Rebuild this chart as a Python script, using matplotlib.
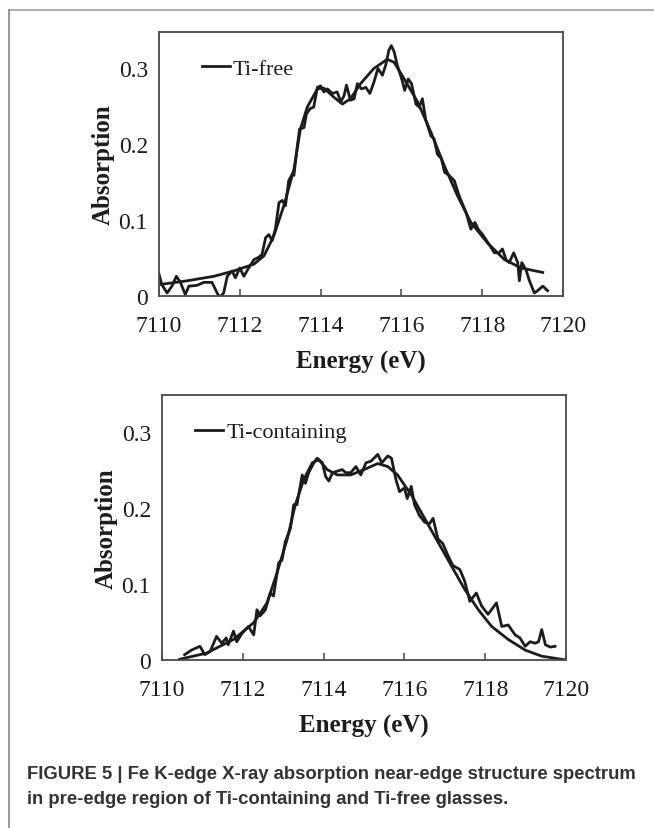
import numpy as np
import matplotlib
matplotlib.use("Agg")
import matplotlib.pyplot as plt
from matplotlib.lines import Line2D

# Ti-free glass: measured spectrum and fit
free_e = [7110.00, 7110.07, 7110.20, 7110.32, 7110.43, 7110.53, 7110.65, 7110.74, 7110.94, 7111.11,
          7111.31, 7111.44, 7111.50, 7111.60, 7111.69, 7111.81, 7111.89, 7112.00, 7112.10, 7112.22,
          7112.35, 7112.47, 7112.55, 7112.64, 7112.72, 7112.80, 7112.88, 7112.97, 7113.05, 7113.13,
          7113.21, 7113.30, 7113.34, 7113.42, 7113.48, 7113.59, 7113.65, 7113.74, 7113.83, 7113.92,
          7114.00, 7114.08, 7114.17, 7114.29, 7114.41, 7114.50, 7114.58, 7114.64, 7114.74, 7114.83,
          7114.91, 7115.01, 7115.12, 7115.22, 7115.32, 7115.42, 7115.53, 7115.61, 7115.69, 7115.75,
          7115.82, 7115.90, 7116.02, 7116.08, 7116.17, 7116.25, 7116.36, 7116.44, 7116.52, 7116.60,
          7116.73, 7116.81, 7116.89, 7116.99, 7117.07, 7117.18, 7117.31, 7117.43, 7117.60, 7117.72,
          7117.82, 7117.90, 7118.01, 7118.17, 7118.30, 7118.42, 7118.50, 7118.59, 7118.67, 7118.78,
          7118.88, 7118.92, 7118.98, 7119.08, 7119.17, 7119.29, 7119.37, 7119.50, 7119.62]
free_abs = [0.029, 0.015, 0.004, 0.013, 0.026, 0.018, 0.002, 0.013, 0.014, 0.018,
            0.018, 0.004, -0.002, 0.004, 0.026, 0.033, 0.024, 0.037, 0.026, 0.037,
            0.048, 0.051, 0.055, 0.077, 0.081, 0.073, 0.088, 0.123, 0.126, 0.119,
            0.152, 0.161, 0.159, 0.196, 0.220, 0.222, 0.240, 0.247, 0.249, 0.275,
            0.277, 0.269, 0.273, 0.267, 0.269, 0.256, 0.264, 0.278, 0.258, 0.260,
            0.280, 0.273, 0.275, 0.267, 0.282, 0.300, 0.291, 0.304, 0.324, 0.330,
            0.322, 0.304, 0.284, 0.271, 0.286, 0.280, 0.253, 0.249, 0.260, 0.233,
            0.211, 0.207, 0.187, 0.181, 0.163, 0.159, 0.152, 0.132, 0.110, 0.088,
            0.097, 0.088, 0.081, 0.068, 0.057, 0.057, 0.062, 0.048, 0.044, 0.057,
            0.044, 0.020, 0.044, 0.035, 0.020, 0.004, 0.007, 0.013, 0.007]
free_fit_e = [7110.00, 7110.69, 7111.36, 7111.85, 7112.35, 7112.60, 7112.84, 7113.09, 7113.34, 7113.50,
              7113.67, 7113.92, 7114.08, 7114.33, 7114.54, 7114.74, 7114.99, 7115.32, 7115.65, 7115.82,
              7116.07, 7116.40, 7116.73, 7117.06, 7117.39, 7117.72, 7118.13, 7118.55, 7118.96, 7119.50]
free_fit = [0.015, 0.020, 0.026, 0.033, 0.042, 0.053, 0.079, 0.119, 0.167, 0.220,
            0.249, 0.273, 0.274, 0.262, 0.253, 0.260, 0.280, 0.300, 0.312, 0.308,
            0.286, 0.256, 0.216, 0.172, 0.132, 0.097, 0.070, 0.048, 0.037, 0.031]

# Ti-containing glass: measured spectrum and fit
ti_e = [7110.56, 7110.73, 7110.94, 7111.06, 7111.19, 7111.35, 7111.48, 7111.59, 7111.64, 7111.77,
        7111.85, 7111.98, 7112.14, 7112.27, 7112.35, 7112.43, 7112.56, 7112.68, 7112.76, 7112.89,
        7112.97, 7113.05, 7113.18, 7113.26, 7113.34, 7113.47, 7113.55, 7113.63, 7113.76, 7113.84,
        7113.97, 7114.05, 7114.13, 7114.22, 7114.34, 7114.46, 7114.55, 7114.67, 7114.80, 7114.92,
        7115.05, 7115.17, 7115.34, 7115.44, 7115.59, 7115.68, 7115.79, 7115.88, 7116.00, 7116.07,
        7116.17, 7116.25, 7116.37, 7116.50, 7116.62, 7116.71, 7116.83, 7116.95, 7117.08, 7117.20,
        7117.37, 7117.49, 7117.62, 7117.78, 7117.91, 7118.07, 7118.28, 7118.41, 7118.57, 7118.74,
        7118.86, 7118.99, 7119.11, 7119.24, 7119.32, 7119.40, 7119.49, 7119.61, 7119.73]
ti_abs = [0.007, 0.013, 0.018, 0.007, 0.011, 0.031, 0.022, 0.029, 0.020, 0.038,
          0.024, 0.035, 0.044, 0.033, 0.066, 0.058, 0.066, 0.088, 0.084, 0.128,
          0.131, 0.155, 0.173, 0.204, 0.204, 0.243, 0.232, 0.246, 0.259, 0.265,
          0.259, 0.241, 0.235, 0.246, 0.248, 0.250, 0.246, 0.246, 0.254, 0.243,
          0.259, 0.261, 0.270, 0.259, 0.268, 0.265, 0.237, 0.221, 0.226, 0.212,
          0.228, 0.204, 0.190, 0.181, 0.179, 0.186, 0.159, 0.153, 0.137, 0.124,
          0.119, 0.104, 0.077, 0.088, 0.071, 0.060, 0.075, 0.044, 0.046, 0.033,
          0.029, 0.018, 0.024, 0.022, 0.024, 0.040, 0.020, 0.017, 0.018]
ti_fit_e = [7110.44, 7111.10, 7111.77, 7112.27, 7112.60, 7112.85, 7113.10, 7113.30, 7113.51, 7113.72,
            7113.88, 7114.09, 7114.34, 7114.67, 7115.00, 7115.34, 7115.59, 7115.83, 7116.17, 7116.50,
            7116.83, 7117.16, 7117.49, 7117.83, 7118.16, 7118.57, 7118.99, 7119.40, 7120.00]
ti_fit = [0.001, 0.009, 0.027, 0.049, 0.075, 0.115, 0.159, 0.204, 0.237, 0.259,
          0.263, 0.250, 0.243, 0.243, 0.250, 0.258, 0.254, 0.243, 0.217, 0.186,
          0.155, 0.124, 0.093, 0.066, 0.044, 0.027, 0.013, 0.005, 0.000]

x_ticks = [7110, 7112, 7114, 7116, 7118, 7120]
y_ticks = [0, 0.1, 0.2, 0.3]
y_labels = ["0", "0.1", "0.2", "0.3"]

plt.rcParams['font.family'] = ['Liberation Serif', 'DejaVu Serif']

fig = plt.figure(figsize=(6.54, 8.29), dpi=100)
W, H = 654, 829

panels = [
    ((159, 563, 33, 297), free_e, free_abs, free_fit_e, free_fit, "Ti-free", 0.106),
    ((162, 566, 396, 661), ti_e, ti_abs, ti_fit_e, ti_fit, "Ti-containing", 0.082),
]

ink = '#1c1c1c'
for (l, r, t, b), e, a, fe, fa, name, lx in panels:
    ax = fig.add_axes([l / W, 1 - b / H, (r - l) / W, (b - t) / H])
    ax.plot(e, a, color=ink, lw=2.0, solid_joinstyle='round')
    ax.plot(fe, fa, color=ink, lw=2.0, label=name, solid_joinstyle='round')
    ax.set_xlim(7110, 7120)
    ax.set_ylim(0, 0.348)
    ax.set_xticks(x_ticks)
    ax.set_xticklabels([str(v) for v in x_ticks])
    ax.set_yticks(y_ticks)
    ax.set_yticklabels(y_labels)
    ax.tick_params(axis='x', direction='in', length=5, width=1.1, color='#444444',
                   labelsize=17, pad=14, labelcolor=ink)
    ax.tick_params(axis='y', length=0, labelsize=17, pad=8, labelcolor=ink)
    for s in ax.spines.values():
        s.set_color('#4a4a4a')
        s.set_linewidth(1.3)
    ax.set_xlabel("Energy (eV)", fontsize=18, fontweight='bold', color=ink, labelpad=10)
    ax.set_ylabel("Absorption", fontsize=18, fontweight='bold', color=ink, labelpad=3)
    ax.legend(loc='center left', bbox_to_anchor=(lx, 0.86), frameon=False, fontsize=16,
              handlelength=1.25, handletextpad=0.15, borderpad=0, borderaxespad=0,
              labelcolor=ink)

# page frame
fig.add_artist(Line2D([9 / W, 1], [1 - 11 / H, 1 - 11 / H], color='#b0b0b0', lw=1.5))
fig.add_artist(Line2D([9 / W, 9 / W], [0, 1 - 11 / H], color='#888888', lw=1.2))

cap = dict(family=['Liberation Sans', 'DejaVu Sans'], fontsize=13.3, fontweight='bold',
           color='#333333', va='baseline', ha='left')
fig.text(27 / W, 1 - 779 / H,
         "FIGURE 5 | Fe K-edge X-ray absorption near-edge structure spectrum", **cap)
fig.text(27 / W, 1 - 804 / H,
         "in pre-edge region of Ti-containing and Ti-free glasses.", **cap)

fig.savefig("out.png", dpi=100)
